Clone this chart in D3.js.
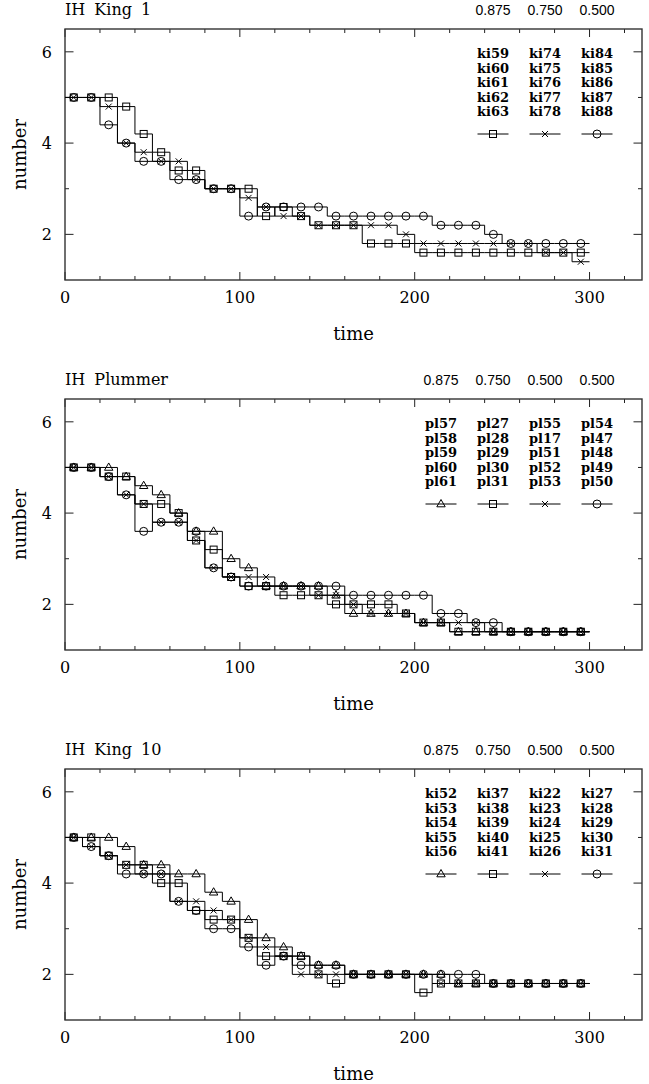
<!DOCTYPE html>
<html>
<head>
<meta charset="utf-8">
<script src="https://cdn.jsdelivr.net/npm/d3@7"></script>
<style>
body { margin: 0; background: #fff; }
svg { display: block; }
.title, .axis-label, .tick-label { font-family: 'DejaVu Serif', serif; fill: #000; }
.legend-head { font-family: 'Liberation Sans', Arial, sans-serif; font-size: 14px; fill: #000; }
.legend-name { font-family: 'DejaVu Serif', serif; font-weight: bold; font-size: 13px; fill: #000; }
</style>
</head>
<body>
<script>
// sampling times (centre of each 10-unit bin)
const times = [5, 15, 25, 35, 45, 55, 65, 75, 85, 95, 105, 115, 125, 135, 145,
	155, 165, 175, 185, 195, 205, 215, 225, 235, 245, 255, 265, 275, 285, 295]

// IH King 1
const king1Square = [5.0, 5.0, 5.0, 4.8, 4.2, 3.8, 3.4, 3.4, 3.0, 3.0, 3.0, 2.4, 2.6, 2.4, 2.2,
	2.2, 2.2, 1.8, 1.8, 1.8, 1.6, 1.6, 1.6, 1.6, 1.6, 1.6, 1.6, 1.6, 1.6, 1.6]
const king1Cross = [5.0, 5.0, 4.8, 4.0, 3.8, 3.6, 3.6, 3.2, 3.0, 3.0, 2.8, 2.6, 2.4, 2.4, 2.2,
	2.2, 2.2, 2.2, 2.2, 2.0, 1.8, 1.8, 1.8, 1.8, 1.8, 1.8, 1.8, 1.6, 1.6, 1.4]
const king1Circle = [5.0, 5.0, 4.4, 4.0, 3.6, 3.6, 3.2, 3.2, 3.0, 3.0, 2.4, 2.6, 2.6, 2.6, 2.6,
	2.4, 2.4, 2.4, 2.4, 2.4, 2.4, 2.2, 2.2, 2.2, 2.0, 1.8, 1.8, 1.8, 1.8, 1.8]

// IH Plummer
const plumTriangle = [5.0, 5.0, 5.0, 4.8, 4.6, 4.4, 4.0, 3.6, 3.6, 3.0, 2.8, 2.4, 2.4, 2.4, 2.4,
	2.2, 1.8, 1.8, 1.8, 1.8, 1.6, 1.6, 1.4, 1.4, 1.4, 1.4, 1.4, 1.4, 1.4, 1.4]
const plumSquare = [5.0, 5.0, 4.8, 4.8, 4.2, 4.2, 4.0, 3.4, 3.2, 2.6, 2.4, 2.4, 2.2, 2.2, 2.2,
	2.0, 2.0, 2.0, 2.0, 1.8, 1.6, 1.6, 1.4, 1.4, 1.4, 1.4, 1.4, 1.4, 1.4, 1.4]
const plumCross = [5.0, 5.0, 4.8, 4.4, 4.2, 3.8, 3.8, 3.4, 2.8, 2.6, 2.6, 2.6, 2.4, 2.4, 2.2,
	2.2, 2.0, 1.8, 1.8, 1.8, 1.6, 1.6, 1.6, 1.6, 1.4, 1.4, 1.4, 1.4, 1.4, 1.4]
const plumCircle = [5.0, 5.0, 4.8, 4.4, 3.6, 3.8, 3.8, 3.6, 2.8, 2.6, 2.4, 2.4, 2.4, 2.4, 2.4,
	2.4, 2.2, 2.2, 2.2, 2.2, 2.2, 1.8, 1.8, 1.6, 1.6, 1.4, 1.4, 1.4, 1.4, 1.4]

// IH King 10
const king10Triangle = [5.0, 5.0, 5.0, 4.8, 4.4, 4.4, 4.2, 4.2, 3.8, 3.6, 3.2, 2.8, 2.6, 2.4, 2.2,
	2.2, 2.0, 2.0, 2.0, 2.0, 2.0, 2.0, 1.8, 1.8, 1.8, 1.8, 1.8, 1.8, 1.8, 1.8]
const king10Square = [5.0, 5.0, 4.6, 4.4, 4.4, 4.0, 4.0, 3.4, 3.2, 3.2, 2.8, 2.4, 2.4, 2.4, 2.0,
	1.8, 2.0, 2.0, 2.0, 2.0, 1.6, 1.8, 1.8, 1.8, 1.8, 1.8, 1.8, 1.8, 1.8, 1.8]
const king10Cross = [5.0, 4.8, 4.6, 4.4, 4.2, 4.2, 3.6, 3.6, 3.4, 3.2, 2.8, 2.6, 2.4, 2.0, 2.0,
	2.0, 2.0, 2.0, 2.0, 2.0, 2.0, 1.8, 1.8, 1.8, 1.8, 1.8, 1.8, 1.8, 1.8, 1.8]
const king10Circle = [5.0, 4.8, 4.6, 4.2, 4.2, 4.2, 3.6, 3.4, 3.0, 3.0, 2.6, 2.2, 2.4, 2.2, 2.2,
	2.2, 2.0, 2.0, 2.0, 2.0, 2.0, 2.0, 2.0, 2.0, 1.8, 1.8, 1.8, 1.8, 1.8, 1.8]

// legend texts
const king1Heads = ['0.875', '0.750', '0.500']
const king1Names = [
	['ki59', 'ki60', 'ki61', 'ki62', 'ki63'],
	['ki74', 'ki75', 'ki76', 'ki77', 'ki78'],
	['ki84', 'ki85', 'ki86', 'ki87', 'ki88']]
const plumHeads = ['0.875', '0.750', '0.500', '0.500']
const plumNames = [
	['pl57', 'pl58', 'pl59', 'pl60', 'pl61'],
	['pl27', 'pl28', 'pl29', 'pl30', 'pl31'],
	['pl55', 'pl17', 'pl51', 'pl52', 'pl53'],
	['pl54', 'pl47', 'pl48', 'pl49', 'pl50']]
const king10Heads = ['0.875', '0.750', '0.500', '0.500']
const king10Names = [
	['ki52', 'ki53', 'ki54', 'ki55', 'ki56'],
	['ki37', 'ki38', 'ki39', 'ki40', 'ki41'],
	['ki22', 'ki23', 'ki24', 'ki25', 'ki26'],
	['ki27', 'ki28', 'ki29', 'ki30', 'ki31']]

const xDomain = [0, 330]
const yDomain = [1, 6.5]
const xTickLabels = [0, 100, 200, 300]
const yTickLabels = [2, 4, 6]

const panels = [
	{ title: 'IH King 1', heads: king1Heads, names: king1Names,
		series: [king1Square, king1Cross, king1Circle], symbols: ['square', 'cross', 'circle'] },
	{ title: 'IH Plummer', heads: plumHeads, names: plumNames,
		series: [plumTriangle, plumSquare, plumCross, plumCircle], symbols: ['triangle', 'square', 'cross', 'circle'] },
	{ title: 'IH King 10', heads: king10Heads, names: king10Names,
		series: [king10Triangle, king10Square, king10Cross, king10Circle], symbols: ['triangle', 'square', 'cross', 'circle'] }
]

const W = 649
const H = 1084
const margin = { left: 65, top: 29 }
const plotW = 577
const plotH = 251
const panelStep = 370
const binHalf = 5

const scaleX = d3.scaleLinear().domain(xDomain).range([0, plotW])
const scaleY = d3.scaleLinear().domain(yDomain).range([plotH, 0])

const svg = d3.select('body').append('svg')
	.attr('width', W)
	.attr('height', H)

function drawSymbol(g, type, x, y) {
	const s = g.append('g')
		.attr('transform', `translate(${x}, ${y})`)
		.attr('fill', 'none')
		.attr('stroke', '#000')
		.attr('stroke-width', 1)
	if (type === 'square') {
		s.append('rect').attr('x', -3.5).attr('y', -3.5).attr('width', 7).attr('height', 7)
	} else if (type === 'circle') {
		s.append('circle').attr('r', 4)
	} else if (type === 'cross') {
		s.append('path').attr('d', 'M-3,-3L3,3M-3,3L3,-3')
	} else if (type === 'triangle') {
		s.append('path').attr('d', 'M0,-4.5L4.2,2.8L-4.2,2.8Z')
	}
}

function drawPanel(p, i) {
	const g = svg.append('g')
		.attr('transform', `translate(${margin.left}, ${margin.top + i * panelStep})`)

	// ticks, bottom + top
	const xMinor = d3.range(0, xDomain[1], 20)
	xMinor.forEach(t => {
		const len = t % 100 === 0 ? 8 : 4
		g.append('line').attr('x1', scaleX(t)).attr('x2', scaleX(t))
			.attr('y1', plotH).attr('y2', plotH - len).attr('stroke', '#222')
		g.append('line').attr('x1', scaleX(t)).attr('x2', scaleX(t))
			.attr('y1', 0).attr('y2', len).attr('stroke', '#222')
	})
	const yMinor = d3.range(2, 7, 1)
	yMinor.forEach(v => {
		const len = v % 2 === 0 ? 8.5 : 4
		g.append('line').attr('x1', 0).attr('x2', len)
			.attr('y1', scaleY(v)).attr('y2', scaleY(v)).attr('stroke', '#222')
		g.append('line').attr('x1', plotW).attr('x2', plotW - len)
			.attr('y1', scaleY(v)).attr('y2', scaleY(v)).attr('stroke', '#222')
	})

	// frame
	g.append('rect')
		.attr('width', plotW)
		.attr('height', plotH)
		.attr('fill', 'none')
		.attr('stroke', '#333')
		.attr('stroke-width', 1.4)

	g.selectAll('.xlab')
		.data(xTickLabels)
		.enter().append('text')
			.attr('class', 'tick-label')
			.attr('x', d => scaleX(d))
			.attr('y', plotH + 23)
			.attr('text-anchor', 'middle')
			.style('font-size', '16px')
			.text(d => d)

	g.selectAll('.ylab')
		.data(yTickLabels)
		.enter().append('text')
			.attr('class', 'tick-label')
			.attr('x', -13)
			.attr('y', d => scaleY(d))
			.attr('dy', '0.36em')
			.attr('text-anchor', 'end')
			.style('font-size', '16px')
			.text(d => d)

	g.append('text')
		.attr('class', 'title')
		.attr('x', 0)
		.attr('y', -14)
		.style('font-size', '16px')
		.style('word-spacing', '4px')
		.text(p.title)

	g.append('text')
		.attr('class', 'axis-label')
		.attr('x', plotW / 2)
		.attr('y', plotH + 60)
		.attr('text-anchor', 'middle')
		.style('font-size', '18px')
		.text('time')

	g.append('text')
		.attr('class', 'axis-label')
		.attr('transform', `translate(-45, ${plotH / 2}) rotate(-90)`)
		.attr('dy', '0.35em')
		.attr('text-anchor', 'middle')
		.style('font-size', '18px')
		.text('number')

	// step lines
	const line = d3.line()
		.x(d => scaleX(d[0]))
		.y(d => scaleY(d[1]))
		.curve(d3.curveStepAfter)

	p.series.forEach((vals, k) => {
		const pts = times.map((t, j) => [t - binHalf, vals[j]])
		pts.push([times[times.length - 1] + binHalf, vals[vals.length - 1]])
		g.append('path')
			.attr('d', line(pts))
			.attr('fill', 'none')
			.attr('stroke', '#000')
			.attr('stroke-width', 1)
		times.forEach((t, j) => drawSymbol(g, p.symbols[k], scaleX(t), scaleY(vals[j])))
	})

	// legend (columns right aligned)
	const nCol = p.heads.length
	p.heads.forEach((h, j) => {
		const cx = 532 - 52 * (nCol - 1 - j)
		g.append('text')
			.attr('class', 'legend-head')
			.attr('x', cx)
			.attr('y', -14)
			.attr('text-anchor', 'middle')
			.text(h)
		p.names[j].forEach((n, r) => {
			g.append('text')
				.attr('class', 'legend-name')
				.attr('x', cx)
				.attr('y', 29 + r * 14.6)
				.attr('text-anchor', 'middle')
				.text(n)
		})
		g.append('line')
			.attr('x1', cx - 15.5).attr('x2', cx + 15.5)
			.attr('y1', 105).attr('y2', 105)
			.attr('stroke', '#000')
		drawSymbol(g, p.symbols[j], cx, 105)
	})
}

panels.forEach(drawPanel)
</script>
</body>
</html>
